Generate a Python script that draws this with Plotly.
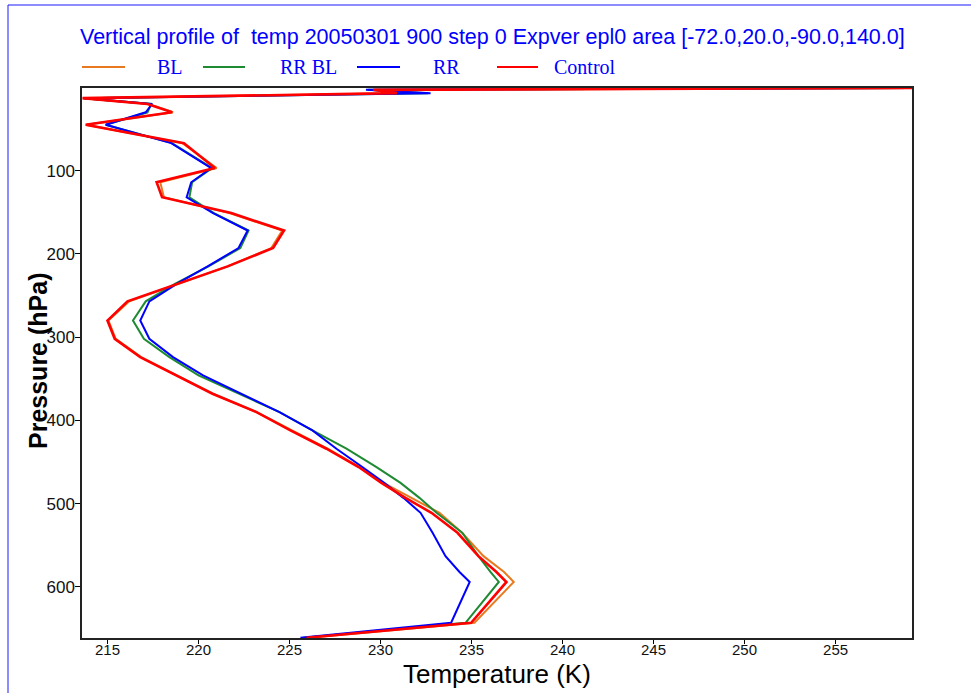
import plotly.graph_objects as go

# ---- data -------------------------------------------------------------
pressure = [0.8, 3, 7, 13, 20, 30, 45, 67, 97, 114, 132, 151, 172, 193, 215, 236,
            257, 280, 302, 324, 346, 368, 390, 412, 434, 456, 475, 493, 511, 535,
            563, 582, 594, 643, 661]

temp_bl = [259.2, 229.7, 231.0, 213.65, 217.25, 218.6, 213.83, 219.12, 221.0, 217.9,
           218.1, 221.7, 224.6, 224.0, 221.6, 218.85, 216.2, 215.05, 215.45, 216.85,
           218.87, 220.8, 223.19, 225.1, 227.09, 228.85, 230.16, 231.7, 233.24, 234.48,
           235.66, 236.79, 237.32, 235.16, 226.04]

temp_rr_bl = [259.2, 229.3, 232.6, 213.68, 217.4, 217.2, 214.9, 218.55, 220.75, 219.65,
              219.5, 220.85, 222.75, 222.3, 220.55, 218.7, 217.1, 216.4, 217.0, 218.4,
              220.0, 222.25, 224.45, 226.26, 228.13, 229.78, 231.1, 232.14, 233.08, 234.5,
              235.38, 236.04, 236.5, 234.67, 225.77]

temp_rr = [259.2, 229.2, 232.75, 213.7, 217.45, 217.1, 214.9, 218.5, 220.7, 219.6,
           219.35, 220.8, 222.7, 222.2, 220.5, 218.8, 217.3, 216.8, 217.3, 218.6,
           220.25, 222.36, 224.45, 226.26, 227.58, 229.0, 230.2, 231.26, 232.2, 232.86,
           233.57, 234.34, 234.9, 233.88, 225.6]

temp_control = [259.2, 229.6, 230.9, 213.63, 217.2, 218.55, 213.8, 219.2, 220.9, 217.7,
                218.0, 221.8, 224.7, 224.1, 221.6, 218.8, 216.1, 215.0, 215.4, 216.8,
                218.83, 220.77, 223.19, 225.05, 227.03, 228.8, 230.05, 231.37, 232.8, 234.23,
                235.38, 236.37, 236.92, 234.98, 225.93]

series_names = ["BL", "RR BL", "RR", "Control"]
series_values = [temp_bl, temp_rr_bl, temp_rr, temp_control]
series_colors = ["#e8791e", "#1e8a32", "#0000ff", "#ff0000"]
series_widths = [2, 2, 2, 2.6]

x_ticks = [215, 220, 225, 230, 235, 240, 245, 250, 255]
y_ticks = [100, 200, 300, 400, 500, 600]

title_text = "Vertical profile of  temp 20050301 900 step 0 Expver epl0 area [-72.0,20.0,-90.0,140.0]"
x_title = "Temperature (K)"
y_title = "<b>Pressure (hPa)</b>"

# ---- figure -----------------------------------------------------------
fig = go.Figure()
for name, vals, col, w in zip(series_names, series_values, series_colors, series_widths):
    fig.add_trace(go.Scatter(x=vals, y=pressure, mode="lines", name=name,
                             line=dict(color=col, width=w), showlegend=False))

L, R, T, B = 82, 912, 88, 638
W, H = 971, 693
pw, ph = R - L, B - T

def px(xp):
    return (xp - L) / pw

def py(yp):
    return (B - yp) / ph

shapes = []
annotations = []

# outer blue frame (offset, partially outside the page)
shapes.append(dict(type="rect", xref="paper", yref="paper",
                   x0=px(8), x1=px(1100), y0=py(800), y1=py(5),
                   line=dict(color="#1a1aff", width=1), layer="below"))

# manual legend
legend_items = [(82, 125, 170), (203, 245, 308), (357, 400, 446), (497, 538, 585)]
for (x0, x1, xc), name, col in zip(legend_items, series_names, series_colors):
    shapes.append(dict(type="line", xref="paper", yref="paper",
                       x0=px(x0), x1=px(x1), y0=py(67), y1=py(67),
                       line=dict(color=col, width=2)))
    annotations.append(dict(x=px(xc), y=py(67), xref="paper", yref="paper",
                            text=name, showarrow=False, xanchor="center", yanchor="middle",
                            font=dict(family="Liberation Serif, Times New Roman, serif",
                                      size=20, color="#0000ff")))

annotations.append(dict(x=px(492), y=py(37), xref="paper", yref="paper",
                        text=title_text, showarrow=False, xanchor="center", yanchor="middle",
                        font=dict(family="Liberation Sans, Arial, sans-serif",
                                  size=21.5, color="#0000ff")))

annotations.append(dict(x=px(497), y=py(674), xref="paper", yref="paper",
                        text=x_title, showarrow=False, xanchor="center", yanchor="middle",
                        font=dict(family="Liberation Sans, Arial, sans-serif",
                                  size=26, color="#000")))

annotations.append(dict(x=px(38), y=py(361), xref="paper", yref="paper",
                        text=y_title, showarrow=False, xanchor="center", yanchor="middle",
                        textangle=-90,
                        font=dict(family="Liberation Sans, Arial, sans-serif",
                                  size=25, color="#000")))

fig.update_layout(
    width=W, height=H,
    margin=dict(l=L, r=W - R, t=T, b=H - B, pad=0, autoexpand=False),
    paper_bgcolor="white", plot_bgcolor="white",
    shapes=shapes, annotations=annotations,
    showlegend=False,
)

fig.update_xaxes(range=[213.6, 259.2], tickvals=x_ticks, ticks="outside", ticklen=4,
                 tickcolor="#000", showgrid=False, zeroline=False, automargin=False,
                 showline=True, linecolor="#222", linewidth=1.5, mirror=True,
                 ticklabelstandoff=-7,
                 tickfont=dict(family="Liberation Sans, Arial, sans-serif",
                               size=15, color="#111"))
fig.update_yaxes(range=[661.3, 0.8], tickvals=y_ticks, ticks="outside", ticklen=5,
                 tickcolor="#000", showgrid=False, zeroline=False, automargin=False,
                 showline=True, linecolor="#222", linewidth=1.5, mirror=True,
                 ticklabelstandoff=-3,
                 tickfont=dict(family="Liberation Sans, Arial, sans-serif", size=17, color="#111"))

fig.write_html("out.html",
               config={"displayModeBar": False},
               post_script="document.body.style.margin='0px';document.body.style.overflow='hidden';")
